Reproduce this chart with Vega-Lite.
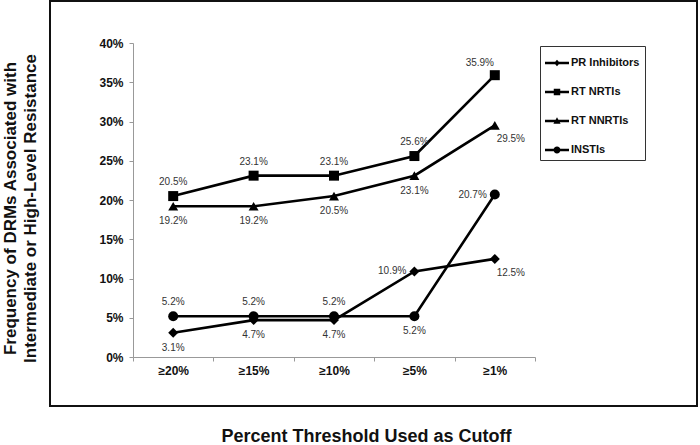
{
  "$schema": "https://vega.github.io/schema/vega-lite/v6.json",
  "width": 647,
  "height": 405,
  "autosize": {"type": "none"},
  "padding": {"left": 50, "top": 1, "right": 3, "bottom": 39},
  "background": "white",
  "config": {
    "font": "Liberation Sans",
    "view": {"stroke": "#111", "strokeWidth": 2}
  },
  "data": {
    "values": [
      {"threshold": "≥20%", "series": "PR Inhibitors", "value": 0.031},
      {"threshold": "≥15%", "series": "PR Inhibitors", "value": 0.047},
      {"threshold": "≥10%", "series": "PR Inhibitors", "value": 0.047},
      {"threshold": "≥5%", "series": "PR Inhibitors", "value": 0.109},
      {"threshold": "≥1%", "series": "PR Inhibitors", "value": 0.125},
      {"threshold": "≥20%", "series": "RT NRTIs", "value": 0.205},
      {"threshold": "≥15%", "series": "RT NRTIs", "value": 0.231},
      {"threshold": "≥10%", "series": "RT NRTIs", "value": 0.231},
      {"threshold": "≥5%", "series": "RT NRTIs", "value": 0.256},
      {"threshold": "≥1%", "series": "RT NRTIs", "value": 0.359},
      {"threshold": "≥20%", "series": "RT NNRTIs", "value": 0.192},
      {"threshold": "≥15%", "series": "RT NNRTIs", "value": 0.192},
      {"threshold": "≥10%", "series": "RT NNRTIs", "value": 0.205},
      {"threshold": "≥5%", "series": "RT NNRTIs", "value": 0.231},
      {"threshold": "≥1%", "series": "RT NNRTIs", "value": 0.295},
      {"threshold": "≥20%", "series": "INSTIs", "value": 0.052},
      {"threshold": "≥15%", "series": "INSTIs", "value": 0.052},
      {"threshold": "≥10%", "series": "INSTIs", "value": 0.052},
      {"threshold": "≥5%", "series": "INSTIs", "value": 0.052},
      {"threshold": "≥1%", "series": "INSTIs", "value": 0.207}
    ]
  },
  "encoding": {
    "x": {
      "field": "threshold",
      "type": "nominal",
      "sort": ["≥20%", "≥15%", "≥10%", "≥5%", "≥1%"],
      "scale": {"type": "band", "range": [83, 485], "paddingInner": 0, "paddingOuter": 0},
      "axis": {
        "orient": "bottom",
        "offset": -49,
        "labelAngle": 0,
        "labelFontSize": 12,
        "labelFontWeight": "bold",
        "labelColor": "#111",
        "labelPadding": 4,
        "tickBand": "extent",
        "tickSize": 4,
        "tickColor": "#999",
        "domainColor": "#999",
        "grid": false,
        "title": "Percent Threshold Used as Cutoff",
        "titleFontSize": 18,
        "titleFontWeight": "bold",
        "titleColor": "#111",
        "titleX": 316,
        "titleY": 79,
        "titleAlign": "center",
        "titleBaseline": "middle"
      }
    },
    "y": {
      "field": "value",
      "type": "quantitative",
      "scale": {"domain": [0, 0.4], "range": [356, 42], "nice": false, "zero": true},
      "axis": {
        "offset": -83,
        "values": [0, 0.05, 0.1, 0.15, 0.2, 0.25, 0.3, 0.35, 0.4],
        "format": ".0%",
        "labelFontSize": 12,
        "labelFontWeight": "bold",
        "labelColor": "#111",
        "labelPadding": 6,
        "tickSize": 4,
        "tickColor": "#999",
        "domainColor": "#999",
        "grid": false,
        "title": ["Frequency of DRMs Associated with", "Intermediate or High-Level Resistance"],
        "titleFontSize": 17,
        "titleFontWeight": "bold",
        "titleColor": "#111",
        "titleLineHeight": 20,
        "titleAngle": -90,
        "titleX": -131,
        "titleY": 207,
        "titleAlign": "center",
        "titleBaseline": "top"
      }
    }
  },
  "resolve": {"scale": {"shape": "independent"}, "legend": {"shape": "independent"}},
  "layer": [
    {
      "mark": {"type": "line", "color": "#000", "strokeWidth": 2.6},
      "encoding": {"detail": {"field": "series"}}
    },
    {
      "mark": {"type": "point", "filled": true, "color": "#000", "opacity": 1, "size": 100},
      "encoding": {
        "shape": {
          "field": "series",
          "type": "nominal",
          "scale": {
            "domain": ["PR Inhibitors", "RT NRTIs", "RT NNRTIs", "INSTIs"],
            "range": ["diamond", "square", "triangle-up", "circle"]
          },
          "legend": null
        }
      }
    },
    {
      "mark": {"type": "point", "filled": true, "color": "#000", "opacity": 0, "size": 100},
      "encoding": {
        "shape": {
          "field": "series",
          "type": "nominal",
          "scale": {
            "domain": ["PR Inhibitors", "RT NRTIs", "RT NNRTIs", "INSTIs"],
            "range": [
              "M-1,-0.1H1V0.1H-1Z M0,-0.27L0.24,0L0,0.27L-0.24,0Z",
              "M-1,-0.1H1V0.1H-1Z M-0.27,-0.27H0.27V0.27H-0.27Z",
              "M-1,-0.1H1V0.1H-1Z M0,-0.32L0.3,0.22H-0.3Z",
              "M-1,-0.1H1V0.1H-1Z M-0.29,0A0.29,0.29,0,1,1,0.29,0A0.29,0.29,0,1,1,-0.29,0Z"
            ]
          },
          "legend": {
            "orient": "none",
            "legendX": 490,
            "legendY": 45,
            "title": null,
            "strokeColor": "#333",
            "fillColor": "white",
            "padding": 5,
            "rowPadding": 12,
            "symbolSize": 576,
            "symbolFillColor": "#000",
            "symbolOpacity": 1,
            "symbolStrokeWidth": 0,
            "labelFontSize": 11,
            "labelFontWeight": "bold",
            "labelColor": "#111",
            "labelOffset": 2
          }
        }
      }
    },
    {
      "transform": [{"filter": "(datum.series === 'RT NRTIs' && datum.threshold !== '≥1%') || (datum.series === 'INSTIs' && datum.threshold !== '≥5%' && datum.threshold !== '≥1%')"}],
      "mark": {"type": "text", "fontSize": 10, "color": "#333", "baseline": "middle", "dy": -14},
      "encoding": {"text": {"field": "value", "type": "quantitative", "format": ".1%"}}
    },
    {
      "transform": [{"filter": "datum.series === 'RT NRTIs' && datum.threshold === '≥1%'"}],
      "mark": {"type": "text", "fontSize": 10, "color": "#333", "baseline": "middle", "dx": -15, "dy": -12},
      "encoding": {"text": {"field": "value", "type": "quantitative", "format": ".1%"}}
    },
    {
      "transform": [{"filter": "(datum.series === 'RT NNRTIs' && datum.threshold !== '≥1%') || (datum.series === 'PR Inhibitors' && datum.threshold !== '≥5%' && datum.threshold !== '≥1%') || (datum.series === 'INSTIs' && datum.threshold === '≥5%')"}],
      "mark": {"type": "text", "fontSize": 10, "color": "#333", "baseline": "middle", "dy": 15},
      "encoding": {"text": {"field": "value", "type": "quantitative", "format": ".1%"}}
    },
    {
      "transform": [{"filter": "(datum.series === 'RT NNRTIs' || datum.series === 'PR Inhibitors') && datum.threshold === '≥1%'"}],
      "mark": {"type": "text", "fontSize": 10, "color": "#333", "baseline": "middle", "dx": 16, "dy": 14},
      "encoding": {"text": {"field": "value", "type": "quantitative", "format": ".1%"}}
    },
    {
      "transform": [{"filter": "(datum.series === 'PR Inhibitors' && datum.threshold === '≥5%') || (datum.series === 'INSTIs' && datum.threshold === '≥1%')"}],
      "mark": {"type": "text", "fontSize": 10, "color": "#333", "baseline": "middle", "align": "right", "dx": -8},
      "encoding": {"text": {"field": "value", "type": "quantitative", "format": ".1%"}}
    }
  ]
}
